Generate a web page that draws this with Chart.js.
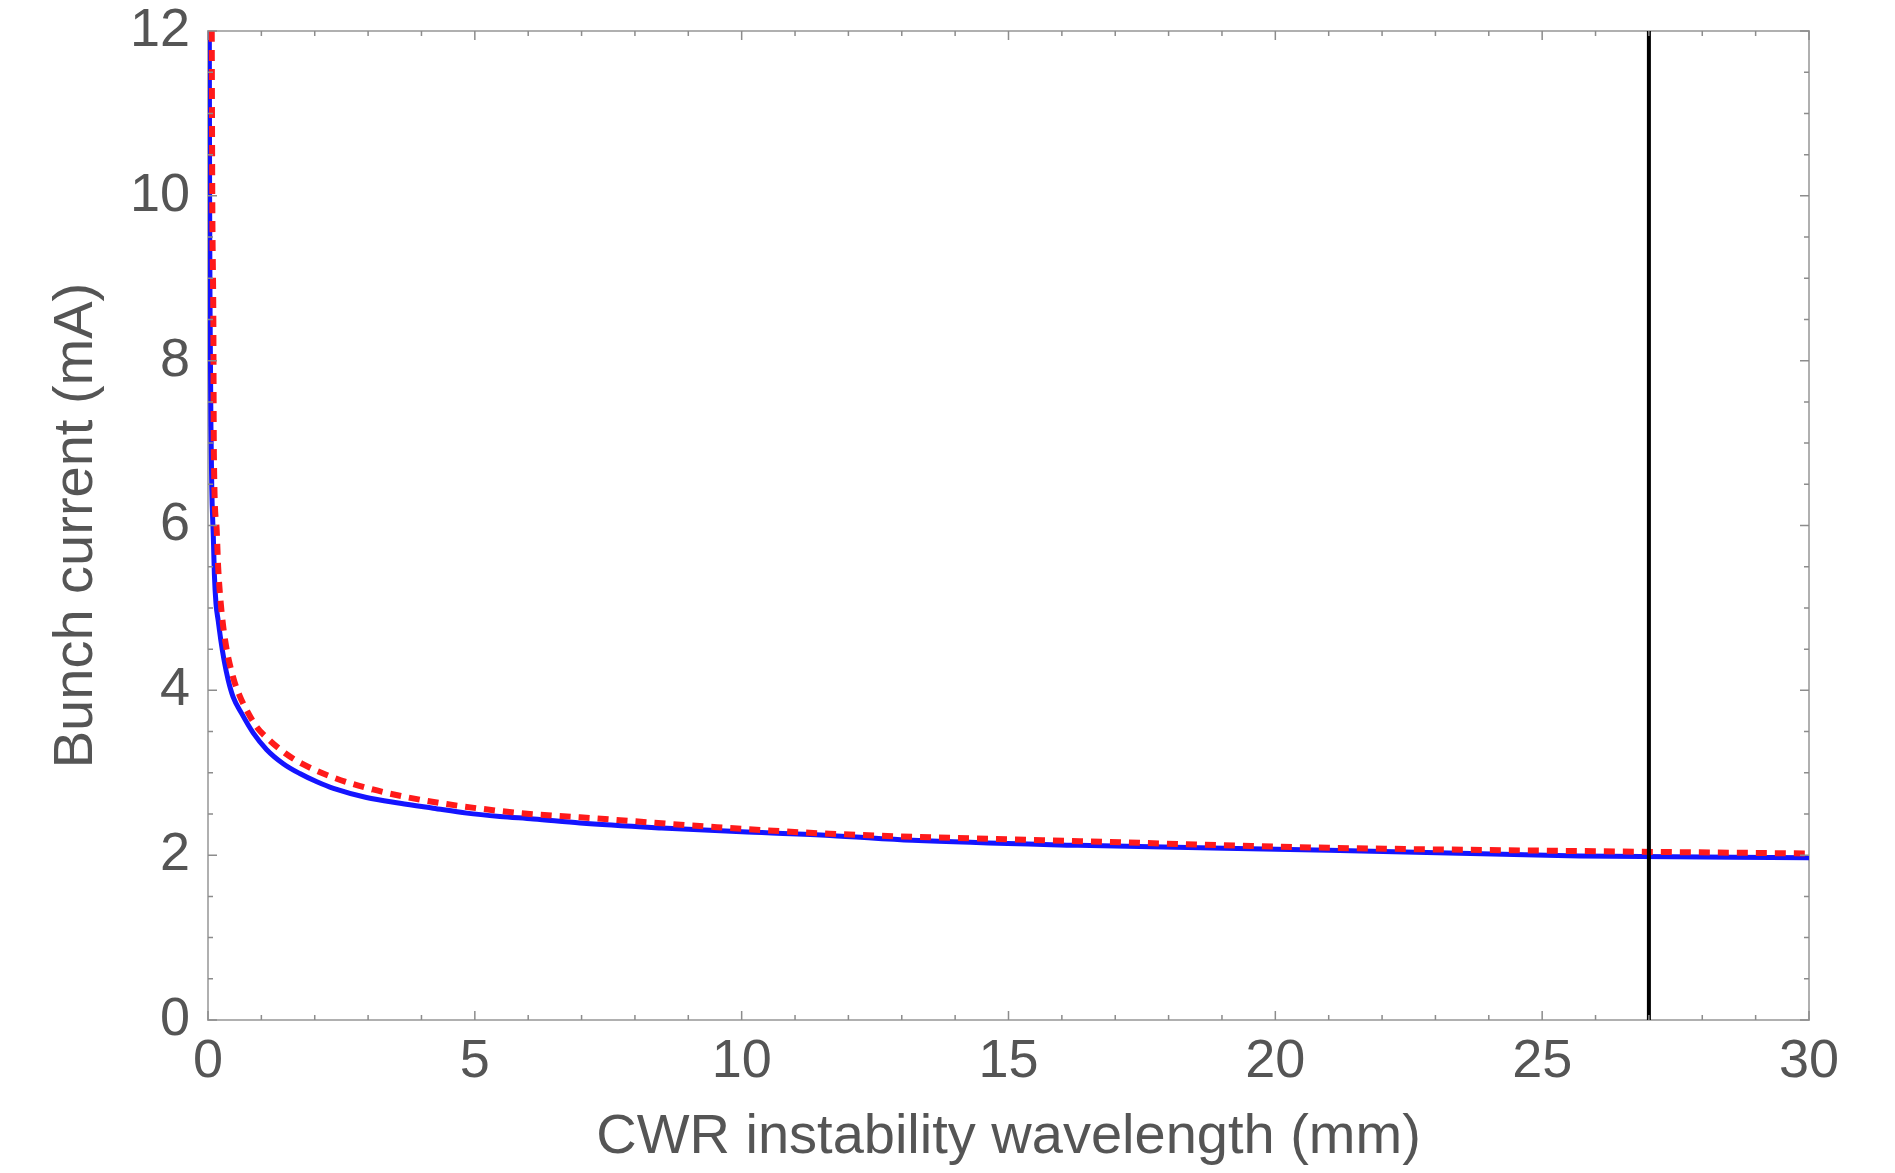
<!DOCTYPE html>
<html>
<head>
<meta charset="utf-8">
<script src="https://cdn.jsdelivr.net/npm/chart.js@4.4.1/dist/chart.umd.min.js"></script>
<style>
    body { margin: 0; background: #fff; }
    #wrap { width: 1895px; height: 1173px; position: relative; }
</style>
</head>
<body>
<div id="wrap"><canvas id="myChart"></canvas></div>
<script>
// ticks
var xTicks = [0, 5, 10, 15, 20, 25, 30];
var yTicks = [0, 2, 4, 6, 8, 10, 12];

// blue solid curve
var blueX = [0.025, 0.03, 0.04, 0.055, 0.07, 0.1, 0.12, 0.15, 0.19, 0.24, 0.30, 0.38, 0.47, 0.63, 0.85, 1.10, 1.41, 1.72, 2.04, 2.35, 2.97, 3.60, 4.22, 4.85, 5.47, 6.10, 6.97, 8.5, 10.1, 11.65, 13.2, 16.3, 21.0, 25.7, 30];
var blueY = [12, 10, 8.5, 7.2, 6.47, 5.86, 5.4, 5.05, 4.85, 4.61, 4.37, 4.12, 3.92, 3.72, 3.48, 3.28, 3.11, 2.99, 2.89, 2.81, 2.70, 2.63, 2.57, 2.51, 2.47, 2.44, 2.39, 2.33, 2.28, 2.24, 2.18, 2.12, 2.06, 1.99, 1.97];

// red dashed curve
var redX = [0.07, 0.08, 0.10, 0.11, 0.16, 0.19, 0.24, 0.32, 0.47, 0.59, 0.74, 0.92, 1.16, 1.44, 1.76, 2.40, 3.07, 3.75, 4.47, 5.16, 5.85, 6.97, 9.3, 11.65, 16.34, 21.0, 25.7, 30];
var redY = [12, 10, 8.5, 6.87, 5.98, 5.5, 5.05, 4.61, 4.16, 3.94, 3.74, 3.55, 3.39, 3.24, 3.11, 2.93, 2.80, 2.70, 2.62, 2.56, 2.51, 2.46, 2.35, 2.26, 2.17, 2.09, 2.05, 2.02];

// vertical marker
var markerX = 27;

function pts(xs, ys) {
    var out = [];
    for (var i = 0; i < xs.length; i++) out.push({x: xs[i], y: ys[i]});
    return out;
}

var FONT = '"Liberation Sans", Arial, Helvetica, sans-serif';
var TXT = '#555555';
var FRAME = '#b0b0b0';

// small inward ticks on all four sides (Mathematica frame style)
var innerTicks = {
    id: 'innerTicks',
    afterDatasetsDraw: function(chart) {
        var ctx = chart.ctx, a = chart.chartArea;
        var x = chart.scales.x, y = chart.scales.y;
        ctx.save();
        ctx.strokeStyle = '#8c8c8c';
        ctx.lineWidth = 1.5;
        ctx.beginPath();
        for (var v = 0; v <= 30; v += 1) {
            var px = x.getPixelForValue(v);
            var len = (v % 5 === 0) ? 9 : 5;
            ctx.moveTo(px, a.bottom); ctx.lineTo(px, a.bottom - len);
            ctx.moveTo(px, a.top); ctx.lineTo(px, a.top + len);
        }
        for (var w = 0; w <= 12; w += 0.5) {
            var py = y.getPixelForValue(w);
            var l2 = (w % 2 === 0) ? 9 : 5;
            ctx.moveTo(a.left, py); ctx.lineTo(a.left + l2, py);
            ctx.moveTo(a.right, py); ctx.lineTo(a.right - l2, py);
        }
        ctx.stroke();
        ctx.restore();
    }
};

var ctx = document.getElementById('myChart');
var myChart = new Chart(ctx, {
    type: 'scatter',
    data: {
        datasets: [
            {
                label: 'blue',
                data: pts(blueX, blueY),
                showLine: true,
                borderColor: '#1414ff',
                borderWidth: 5,
                pointRadius: 0,
                cubicInterpolationMode: 'monotone',
                order: 3
            },
            {
                label: 'red',
                data: pts(redX, redY),
                showLine: true,
                borderColor: '#ff1a1a',
                borderWidth: 6,
                borderDash: [11, 8],
                pointRadius: 0,
                cubicInterpolationMode: 'monotone',
                order: 2
            },
            {
                label: 'marker',
                data: [{x: markerX, y: yTicks[0]}, {x: markerX, y: yTicks[yTicks.length - 1]}],
                showLine: true,
                borderColor: '#000000',
                borderWidth: 4,
                pointRadius: 0,
                order: 1
            }
        ]
    },
    options: {
        responsive: true,
        maintainAspectRatio: false,
        animation: false,
        layout: { padding: { left: 0, top: 31, right: 86, bottom: 0 } },
        plugins: {
            legend: { display: false },
            tooltip: { enabled: false }
        },
        scales: {
            x: {
                type: 'linear',
                position: 'bottom',
                min: 0, max: 30,
                afterBuildTicks: function(s) { s.ticks = xTicks.map(function(v) { return {value: v}; }); },
                afterFit: function(s) { s.height = 153; s.paddingLeft = 0; s.paddingRight = 0; },
                ticks: { color: TXT, padding: 10, maxRotation: 0, font: { family: FONT, size: 54 } },
                grid: { display: false, drawTicks: false },
                border: { display: true, color: FRAME, width: 2 },
                title: {
                    display: true,
                    text: 'CWR instability wavelength (mm)',
                    color: TXT,
                    font: { family: FONT, size: 56 },
                    padding: { top: 0, bottom: 2 }
                }
            },
            y: {
                type: 'linear',
                position: 'left',
                min: 0, max: 12,
                afterBuildTicks: function(s) { s.ticks = yTicks.map(function(v) { return {value: v}; }); },
                afterFit: function(s) { s.width = 208; s.paddingTop = 0; s.paddingBottom = 0; },
                ticks: { color: TXT, padding: 18, font: { family: FONT, size: 54 } },
                grid: { display: false, drawTicks: false },
                border: { display: true, color: FRAME, width: 2 },
                title: {
                    display: true,
                    text: 'Bunch current (mA)',
                    color: TXT,
                    font: { family: FONT, size: 56 },
                    padding: { top: 43, bottom: 0 }
                }
            },
            x2: {
                type: 'linear',
                position: 'top',
                min: 0, max: 30,
                ticks: { display: false },
                afterFit: function(s) { s.height = 0; s.paddingLeft = 0; s.paddingRight = 0; },
                grid: { display: false, drawTicks: false },
                border: { display: true, color: FRAME, width: 2 }
            },
            y2: {
                type: 'linear',
                position: 'right',
                min: 0, max: 12,
                ticks: { display: false },
                afterFit: function(s) { s.width = 0; s.paddingTop = 0; s.paddingBottom = 0; },
                grid: { display: false, drawTicks: false },
                border: { display: true, color: FRAME, width: 2 }
            }
        }
    },
    plugins: [innerTicks]
});
</script>
</body>
</html>
